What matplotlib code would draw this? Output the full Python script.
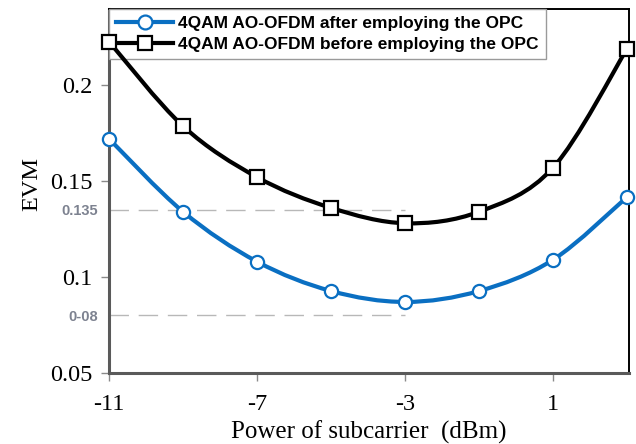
#!/usr/bin/env python3
import numpy as np
import matplotlib
matplotlib.use('Agg')
import matplotlib.pyplot as plt
from matplotlib.path import Path
from matplotlib.patches import PathPatch
from matplotlib.lines import Line2D

# Power of subcarrier (dBm)
power = [-11, -9, -7, -5, -3, -1, 1, 3]

# EVM with and without optical phase conjugation
evm_after = [0.172, 0.134, 0.108, 0.0927, 0.087, 0.0927, 0.109, 0.1417]
evm_before = [0.2226, 0.1786, 0.152, 0.136, 0.128, 0.134, 0.157, 0.219]

label_after = '4QAM AO-OFDM after employing the OPC'
label_before = '4QAM AO-OFDM before employing the OPC'

# Reference levels marked on the y axis
ref_levels = [0.135, 0.08]
ref_labels = ['0.135', '0-08']

BLUE = '#0a6fc2'


def smooth_path(x, y):
    '''
    Build a cubic Bezier path through the points (Catmull-Rom style
    control points, as spreadsheet "smoothed line" charts do).
    '''
    n = len(x)
    verts = [(x[0], y[0])]
    codes = [Path.MOVETO]
    for i in range(n - 1):
        xa, ya = (x[i - 1], y[i - 1]) if i > 0 else (x[i], y[i])
        xb, yb = (x[i + 2], y[i + 2]) if i + 2 < n else (x[i + 1], y[i + 1])
        c1 = (x[i] + (x[i + 1] - xa) / 6.0, y[i] + (y[i + 1] - ya) / 6.0)
        c2 = (x[i + 1] - (xb - x[i]) / 6.0, y[i + 1] - (yb - y[i]) / 6.0)
        verts += [c1, c2, (x[i + 1], y[i + 1])]
        codes += [Path.CURVE4] * 3
    return Path(verts, codes)


fig = plt.figure(figsize=(6.36, 4.44), dpi=100)
ax = fig.add_axes([0.1714, 0.16, 0.8176, 0.8197])

# Dashed reference lines running from the axis to the minimum
for lev in ref_levels:
    ax.plot([-11, -3], [lev, lev], color='#b8b8b8', lw=1.0,
            dashes=(14, 7), zorder=2)

# Smoothed curves plus markers
for vals, color, marker in [(evm_before, 'black', 's'),
                            (evm_after, BLUE, 'o')]:
    ax.add_patch(PathPatch(smooth_path(power, vals), fill=False,
                           edgecolor=color, lw=3.0, zorder=6,
                           capstyle='round'))
    ax.plot(power, vals, ls='none', marker=marker, ms=9.5,
            mfc='white', mec=color, mew=1.6, zorder=7, clip_on=False)

# Axis limits and ticks
ax.set_xlim(-11, 3.05)
ax.set_ylim(0.05, 0.2396)
ax.set_xticks([-11, -7, -3, 1])
ax.set_xticklabels(['-11', '-7', '-3', '1'])
ax.set_yticks([0.05, 0.1, 0.15, 0.2])
ax.set_yticklabels(['0.05', '0.1', '0.15', '0.2'])
ax.set_yticks(ref_levels, minor=True)
ax.set_yticklabels(ref_labels, minor=True)

ax.tick_params(axis='both', which='major', direction='out', length=6,
               width=1, color='#8a8a8a', labelsize=17.5)
ax.tick_params(axis='x', which='major', pad=9)
ax.tick_params(axis='y', which='major', pad=6)
ax.tick_params(axis='y', which='minor', length=0, pad=8,
               labelcolor='#7d8290', labelsize=10.5)
for lab in ax.get_xticklabels() + ax.get_yticklabels():
    lab.set_fontfamily('Liberation Serif')
for lab in ax.get_yticklabels(minor=True):
    lab.set_fontfamily('Liberation Sans')
    lab.set_fontweight('bold')

# Frame: grey axes on left/bottom, thin black on top/right
for side in ['left', 'bottom']:
    ax.spines[side].set_color('#5a5a5a')
    ax.spines[side].set_linewidth(2.2)
for side in ['top', 'right']:
    ax.spines[side].set_color('black')
    ax.spines[side].set_linewidth(1.4)

# Axis labels
ax.set_xlabel('Power of subcarrier  (dBm)', fontsize=18,
              fontfamily='Liberation Serif')
ax.set_ylabel('EVM', fontsize=17.5, fontfamily='Liberation Serif')
ax.xaxis.set_label_coords(0.5, -0.13)
ax.yaxis.set_label_coords(-0.128, 0.52)

# Legend
handles = [
    Line2D([], [], color=BLUE, lw=3.0, marker='o', ms=10, mfc='white',
           mec=BLUE, mew=1.6),
    Line2D([], [], color='black', lw=3.0, marker='s', ms=10, mfc='white',
           mec='black', mew=1.6),
]
leg = ax.legend(handles, [label_after, label_before], loc='upper left',
                bbox_to_anchor=(0.0, 1.0), borderaxespad=0.0,
                fancybox=False, framealpha=1, edgecolor='#9a9a9a',
                prop={'family': 'Liberation Sans', 'weight': 'bold',
                      'size': 12.5},
                handlelength=3.3, handletextpad=0.3, labelspacing=0.35,
                borderpad=0.4)
leg.get_frame().set_linewidth(1.0)
leg.set_zorder(5)

fig.savefig('out.png', dpi=100)
plt.close(fig)
